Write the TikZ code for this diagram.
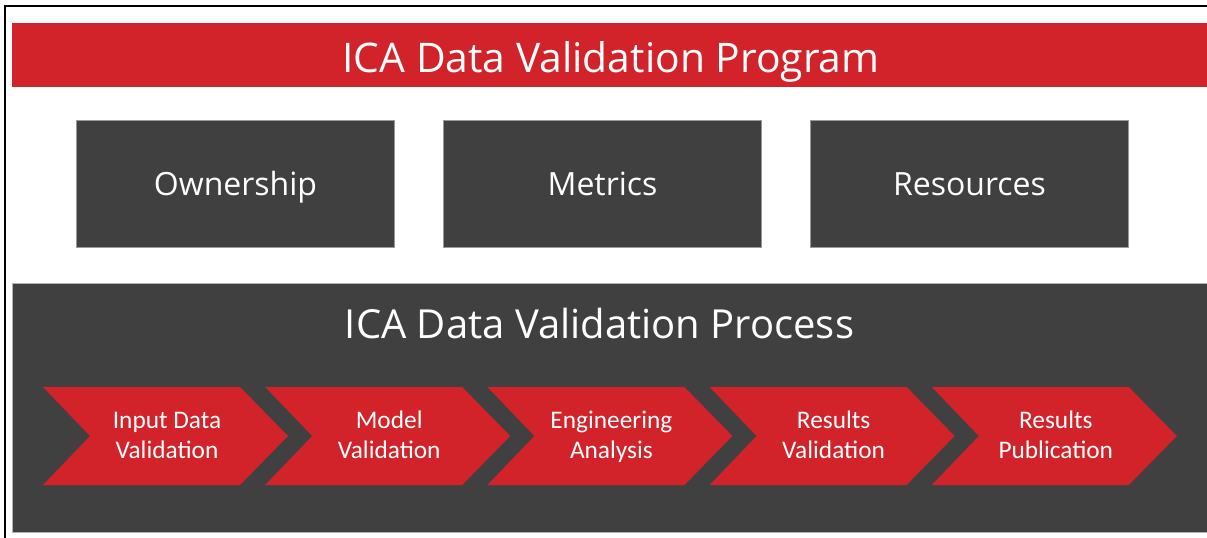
\documentclass[tikz,border=0pt]{standalone}
\usepackage{fontspec}
\setmainfont{Open Sans}
\newfontfamily\stepfont{Carlito}
\definecolor{icared}{HTML}{D2232A}
\definecolor{icagray}{HTML}{404040}

\begin{document}
\begin{tikzpicture}[x=0.75pt,y=-0.75pt,line width=.35pt,
  darkbox/.style={fill=icagray,draw=black!40,line width=.6pt,inner sep=0pt,
    text=white,minimum width=239pt,minimum height=95pt,text depth=0pt,text height=17pt,
    font=\fontsize{24}{28}\selectfont},
  headtext/.style={text=white,inner sep=0pt,anchor=base,font=\fontsize{30}{36}\selectfont},
  steptext/.style={text=white,inner sep=0pt,align=center,font=\stepfont\fontsize{19}{22.5}\selectfont}]
\useasboundingbox (0,0) rectangle (1207,538);
% frame
\draw[line width=1.5pt] (5,538) -- (5,6.5) -- (1207,6.5);
% program banner
\fill[icared] (12,23) rectangle (1207,87);
\node[headtext,font=\fontsize{30.6}{36}\selectfont] (program) at (611,72.7) {ICA Data Validation Program};
% program parts
\node[darkbox] (owner) at (235.5,184) {Ownership};
\node[darkbox] (metric) at (602.5,184) {Metrics};
\node[darkbox] (resource) at (969.5,184) {Resources};
% process panel
\filldraw[fill=icagray,draw=black!30,line width=.6pt] (12,283) rectangle (1208,532);
\node[headtext] (process) at (599.5,338.3) {ICA Data Validation Process};
% process steps
\foreach \x/\lbl [count=\i] in {43/{Input Data\\\strut Validation},
    265.2/{Model\\\strut Validation},
    487.4/{Engineering\\\strut Analysis},
    709.6/{Results\\\strut Validation},
    931.8/{Results\\\strut Publication}}{
  \fill[icared] (\x,387) -- ++(197,0) -- ++(48,49) -- ++(-48,49) -- ++(-197,0) -- ++(47,-49) -- cycle;
  \node[steptext] (step\i) at (\x+124,437) {\strut\lbl};
}
\end{tikzpicture}
\end{document}
